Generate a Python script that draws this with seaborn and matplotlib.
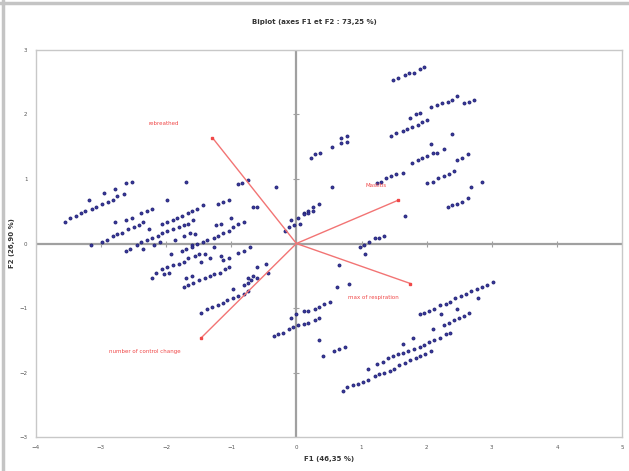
import numpy as np
import pandas as pd
import matplotlib.pyplot as plt
import seaborn as sns
from matplotlib.lines import Line2D

upleft_f1 = [-3.56, -3.48, -3.39, -3.31, -3.24, -3.14, -3.07, -2.99, -2.90, -2.82, -2.75, -2.65,
             -3.18, -2.95, -2.78, -2.62, -2.53, -3.16,
             -2.99, -2.91, -2.82, -2.75, -2.67, -2.58, -2.50, -2.42, -2.35,
             -2.78, -2.61, -2.53, -2.38, -2.30, -2.22, -1.98,
             -2.62, -2.55, -2.45, -2.38, -2.30, -2.21, -2.13, -2.06, -1.98, -1.89, -1.81, -1.73, -1.66, -1.58,
             -2.35, -2.19, -2.10, -2.26,
             -2.07, -1.99, -1.90, -1.84, -1.76, -1.67, -1.60, -1.52, -1.44,
             -1.69, -0.89, -0.83, -0.75, -0.31, -1.20, -1.12, -1.04, -0.66, -0.60,
             -1.72, -1.64, -1.56, -1.23, -1.15, -1.00,
             -1.61, -1.53, -1.44, -1.37, -1.27, -1.20, -1.12, -1.04, -0.97, -0.89, -0.81,
             -1.87, -1.26, -1.76, -1.69, -1.60, -1.92, -0.89, -0.81, -0.72,
             -0.18, -0.11, -0.03, -0.08, 0.03, 0.05, 0.11, 0.18, 0.26, 0.34, 0.11, 0.18, 0.26]
upleft_f2 = [0.34, 0.39, 0.42, 0.47, 0.50, 0.54, 0.57, 0.62, 0.65, 0.68, 0.73, 0.76,
             0.68, 0.79, 0.85, 0.93, 0.96, -0.03,
             0.03, 0.06, 0.11, 0.14, 0.17, 0.22, 0.25, 0.28, 0.33,
             0.33, 0.37, 0.40, 0.47, 0.50, 0.54, 0.68,
             -0.11, -0.08, -0.03, 0.02, 0.05, 0.08, 0.11, 0.16, 0.19, 0.22, 0.25, 0.28, 0.31, 0.36,
             -0.09, -0.03, 0.02, 0.23,
             0.31, 0.34, 0.37, 0.40, 0.43, 0.47, 0.51, 0.54, 0.59,
             0.96, 0.92, 0.93, 0.98, 0.88, 0.62, 0.65, 0.68, 0.56, 0.57,
             0.12, 0.16, 0.14, 0.28, 0.31, 0.39,
             -0.03, 0.00, 0.03, 0.06, 0.08, 0.12, 0.17, 0.20, 0.25, 0.30, 0.33,
             0.05, -0.05, -0.11, -0.09, -0.05, -0.16, -0.14, -0.11, -0.06,
             0.20, 0.25, 0.28, 0.36, 0.39, 0.31, 0.48, 0.51, 0.57, 0.61, 0.45, 0.47, 0.50]

lowleft_f1 = [-2.15, -2.06, -1.98, -1.89, -1.81, -1.73, -1.66, -1.56, -1.50, -1.41,
              -2.22, -2.04, -1.96, -1.47, -1.33, -1.15, -1.12, -1.04,
              -1.73, -1.66, -1.58, -1.50, -1.41, -1.33, -1.26, -1.18, -1.10, -1.03,
              -1.69, -1.60, -0.46, -0.61, -0.66, -0.74, -0.60, -0.69, -0.74, -0.81, -0.43,
              -1.46, -1.37, -1.29, -1.20, -1.12, -1.06, -0.97, -0.89, -0.81, -0.74, -0.98]
lowleft_f2 = [-0.45, -0.40, -0.37, -0.34, -0.31, -0.28, -0.23, -0.20, -0.17, -0.16,
              -0.54, -0.48, -0.45, -0.28, -0.22, -0.19, -0.25, -0.22,
              -0.68, -0.64, -0.61, -0.57, -0.54, -0.51, -0.48, -0.45, -0.40, -0.37,
              -0.53, -0.51, -0.31, -0.37, -0.50, -0.53, -0.53, -0.57, -0.61, -0.65, -0.45,
              -1.07, -1.02, -0.99, -0.96, -0.92, -0.88, -0.84, -0.81, -0.78, -0.74, -0.70]

lowright_f1 = [0.00, 0.11, 0.18, 0.28, 0.35, 0.43, 0.51,
               -0.35, -0.28, -0.20, -0.12, -0.05, 0.03, 0.11, 0.18, 0.28, 0.35, -0.08,
               0.34, 0.41, 0.58, 0.66, 0.74, 0.66, 0.63, 0.80, 1.06,
               0.97, 1.04, 1.12, 1.20, 1.27, 1.35,
               1.89, 1.96, 2.04, 2.12, 2.21, 2.29, 2.36, 2.44, 2.52, 2.61, 2.68, 2.78, 2.85, 2.93, 3.02,
               2.79, 2.47, 2.22,
               2.26, 2.35, 2.42, 2.50, 2.58, 2.65, 2.10,
               1.24, 1.33, 1.41, 1.49, 1.56, 1.64, 1.72, 1.81, 1.89, 1.96, 2.04, 2.12, 2.21, 2.29, 2.36,
               1.10, 1.63, 1.79,
               0.71, 0.78, 0.87, 0.95, 1.03, 1.10, 1.20, 1.27, 1.35, 1.43, 1.50, 1.58, 1.66, 1.75, 1.83,
               1.90, 1.98, 2.06]
lowright_f2 = [-1.09, -1.05, -1.04, -1.01, -0.98, -0.93, -0.90,
               -1.44, -1.41, -1.38, -1.33, -1.30, -1.27, -1.24, -1.23, -1.19, -1.15, -1.15,
               -1.50, -1.75, -1.67, -1.64, -1.61, -0.34, -0.68, -0.62, -0.17,
               -0.05, -0.02, 0.02, 0.08, 0.09, 0.12,
               -1.10, -1.07, -1.04, -1.01, -0.96, -0.93, -0.90, -0.85, -0.82, -0.78, -0.74, -0.71, -0.68,
               -0.64, -0.60,
               -0.85, -1.01, -1.10,
               -1.26, -1.23, -1.19, -1.15, -1.12, -1.07, -1.33,
               -1.86, -1.83, -1.78, -1.75, -1.72, -1.69, -1.66, -1.63, -1.60, -1.57, -1.52, -1.49, -1.46,
               -1.41, -1.38,
               -1.94, -1.55, -1.47,
               -2.28, -2.23, -2.20, -2.17, -2.14, -2.11, -2.06, -2.03, -2.00, -1.97, -1.94, -1.89, -1.85,
               -1.81, -1.78, -1.74, -1.71, -1.67]

upright_f1 = [1.49, 1.56, 1.66, 1.73, 1.81, 1.89, 1.96,
              1.75, 1.83, 1.90, 2.07, 2.16, 2.24, 2.32, 2.39, 2.47, 2.58, 2.65, 2.73,
              1.46, 1.53, 1.63, 1.70, 1.78, 1.86, 1.93, 2.01, 2.39, 2.07,
              1.78, 1.86, 1.93, 2.01, 2.09, 2.16, 2.26, 2.47, 2.55, 2.64,
              1.23, 1.30, 1.38, 1.46, 1.53, 1.63,
              2.01, 2.10, 2.18, 2.26, 2.35, 2.42, 2.68, 2.85,
              2.32, 2.39, 2.47, 2.55, 2.64,
              0.55, 0.22, 0.29, 0.37, 0.54, 0.68, 0.78, 0.68, 0.78, 1.66]
upright_f2 = [2.54, 2.57, 2.61, 2.64, 2.65, 2.71, 2.74,
              1.95, 2.00, 2.02, 2.11, 2.14, 2.17, 2.20, 2.23, 2.28, 2.17, 2.20, 2.23,
              1.66, 1.71, 1.74, 1.77, 1.80, 1.83, 1.88, 1.91, 1.69, 1.54,
              1.24, 1.29, 1.33, 1.35, 1.40, 1.41, 1.46, 1.30, 1.33, 1.38,
              0.93, 0.96, 1.01, 1.04, 1.07, 1.10,
              0.93, 0.96, 1.01, 1.04, 1.07, 1.12, 0.88, 0.95,
              0.56, 0.59, 0.62, 0.65, 0.70,
              0.87, 1.33, 1.38, 1.41, 1.49, 1.63, 1.66, 1.55, 1.58, 0.42]

# variables (arrows)
var_names = ['rebreathed', 'Mastitis', 'max of respiration', 'number of control change']
var_f1 = [-1.29, 1.56, 1.75, -1.46]
var_f2 = [1.64, 0.67, -0.62, -1.46]

sns.set_style('white')
plt.rcParams['font.family'] = ['DejaVu Sans']

df = pd.DataFrame({'F1': upleft_f1 + lowleft_f1 + lowright_f1 + upright_f1,
                   'F2': upleft_f2 + lowleft_f2 + lowright_f2 + upright_f2})

fig = plt.figure(figsize=(6.29, 4.71), dpi=100)
ax = fig.add_axes([0.057, 0.072, 0.932, 0.822])

ax.axhline(0, color='#a0a0a0', lw=1.6, zorder=1)
ax.axvline(0, color='#a0a0a0', lw=1.6, zorder=1)

sns.scatterplot(data=df, x='F1', y='F2', ax=ax, s=5, color='#3a3a9c',
                edgecolor='#1a1a6e', linewidth=0.5, zorder=3, legend=False)

# arrows for the variables
label_pos = [(-2.04, 1.86), (1.23, 0.90), (1.18, -0.84), (-2.32, -1.67)]
for name, x, y, (lx, ly) in zip(var_names, var_f1, var_f2, label_pos):
    ax.plot([0, x], [0, y], color='#f27474', lw=1.0, zorder=4)
    ax.plot([x], [y], marker='s', ms=2, color='#f04848', zorder=5)
    ax.text(lx, ly, name, color='#f04848', fontsize=4, ha='center', va='center')

ax.set_xlim(-4, 5)
ax.set_ylim(-3, 3)
ax.set_xticks(range(-4, 6))
ax.set_yticks(range(-3, 4))
ax.tick_params(labelsize=4, colors='#555555', length=0, pad=6)

# small tick marks on the centre axes
ax.plot(ax.get_xticks(), np.zeros(len(ax.get_xticks())), ls='none', marker='|',
        ms=4, color='#a0a0a0', mew=0.8, zorder=1)
ax.plot(np.zeros(len(ax.get_yticks())), ax.get_yticks(), ls='none', marker='_',
        ms=4, color='#a0a0a0', mew=0.8, zorder=1)

for sp in ax.spines.values():
    sp.set_color('#c8c8c8')
    sp.set_linewidth(1.0)

ax.set_xlabel('F1 (46,35 %)', fontsize=5, fontweight='bold', color='#333333', labelpad=4)
ax.set_ylabel('F2 (26,90 %)', fontsize=5, fontweight='bold', color='#333333', labelpad=3)
fig.text(0.5, 0.953, 'Biplot (axes F1 et F2 : 73,25 %)', fontsize=5, fontweight='bold',
         color='#333333', ha='center', va='center')

# outer frame of the picture (top and left)
fig.add_artist(Line2D([0, 1], [0.994, 0.994], color='#c4c4c4', lw=2.5))
fig.add_artist(Line2D([0.005, 0.005], [0, 1], color='#c4c4c4', lw=2.5))

fig.savefig('out.png', dpi=100)
